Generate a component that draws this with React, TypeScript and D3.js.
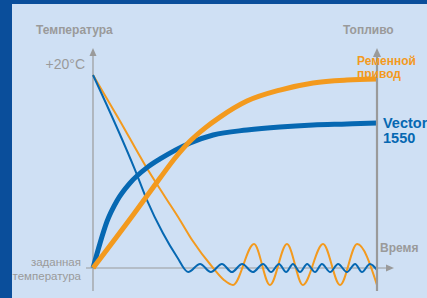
import React, { useEffect, useRef } from "react";
import { select, scaleLinear, line, curveMonotoneX } from "d3";

const W = 427;
const H = 298;

// fuel consumption (thick lines)
const vectorFuelT = [0, 2.5, 4.9, 8.5, 13, 19, 23.6, 34.2, 42.3, 54.2, 65.8, 77.5, 89.4, 100];
const vectorFuelV = [0, 13, 24, 35, 44, 52, 56.5, 64.8, 68.9, 71.5, 73.1, 74.1, 74.6, 75.1];
const beltFuelT = [0, 14.1, 23.6, 28.9, 34.2, 39.4, 44.7, 54.2, 65.8, 77.5, 89.4, 100];
const beltFuelV = [0, 27.5, 46.6, 57, 65.8, 72.5, 78.2, 86.5, 92.2, 95.9, 97.4, 97.9];

// temperature (thin lines)
const vectorTempT = [
  0, 14.8, 19, 24.6, 29.6, 33.5, 37.7, 41.5, 45.4, 48.9, 52.5, 56.3, 59.9, 62.7, 65.5, 68,
  70.4, 72.9, 75.4, 78.2, 80.6, 83.5, 86.3, 89.4, 92.3, 94.7, 97.5, 100,
];
const vectorTempV = [
  100, 50.8, 35.2, 18.1, 5.7, -2.1, 2.1, -2.1, 2.1, -2.1, 2.1, -2.1, 2.1, -2.1, 2.1, -2.1,
  2.1, -2.1, 2.1, -2.1, 2.1, -2.1, 2.1, -2.1, 2.1, -2.1, 2.1, -1,
];
const beltTempT = [0, 9.5, 18.3, 25.4, 30.6, 34.9, 42.3, 46.1, 49.3, 56.7, 62.3, 68.3, 73.9, 81, 87, 93, 100];
const beltTempV = [100, 76.2, 53.4, 36.8, 24.9, 14.5, 0, -6.2, -8.8, 12.4, -8.8, 12.4, -8.8, 12.4, -8.8, 12.4, -8.8];

const ORANGE = "#f39a1e";
const BLUE = "#0668b2";
const GREY = "#9a9a9a";
const FONT = "'Liberation Sans', Arial, sans-serif";

const Chart = () => {
  const svgRef = useRef(null);

  useEffect(() => {
    const svg = select(svgRef.current);
    svg.selectAll("*").remove();

    const x = scaleLinear().domain([0, 100]).range([93, 377]);
    const y = scaleLinear().domain([0, 100]).range([268, 75]);
    const [x0, x1] = x.range();
    const y0 = y(0);

    // background + frame
    svg.append("rect").attr("width", W).attr("height", H).attr("fill", "#cfe0f4");
    svg.append("rect").attr("width", 12).attr("height", H).attr("fill", "#0a4e9b");
    svg.append("rect").attr("width", W).attr("height", 4).attr("fill", "#0a4e9b");

    // left + bottom axes
    svg.append("line").attr("x1", x0).attr("x2", x0).attr("y1", 291).attr("y2", 54)
      .attr("stroke", GREY).attr("stroke-width", 1.2);
    svg.append("path").attr("d", `M${x0 - 3.5},56L${x0},48L${x0 + 3.5},56Z`).attr("fill", GREY);
    svg.append("line").attr("x1", 86).attr("x2", 388).attr("y1", y0).attr("y2", y0)
      .attr("stroke", GREY).attr("stroke-width", 1.2);
    svg.append("path").attr("d", `M386,${y0 - 3.5}L394,${y0}L386,${y0 + 3.5}Z`).attr("fill", GREY);

    const mk = (ts, vs) => line().curve(curveMonotoneX)(ts.map((t, i) => [x(t), y(vs[i])]));

    const series = [
      { t: beltTempT, v: beltTempV, c: ORANGE, w: 2 },
      { t: vectorTempT, v: vectorTempV, c: BLUE, w: 2 },
      { t: vectorFuelT, v: vectorFuelV, c: BLUE, w: 5 },
      { t: beltFuelT, v: beltFuelV, c: ORANGE, w: 5 },
    ];
    svg.selectAll(".curve").data(series).join("path")
      .attr("class", "curve")
      .attr("d", (s) => mk(s.t, s.v))
      .attr("fill", "none")
      .attr("stroke", (s) => s.c)
      .attr("stroke-width", (s) => s.w);

    // right (fuel) axis
    svg.append("line").attr("x1", x1).attr("x2", x1).attr("y1", 291).attr("y2", 55)
      .attr("stroke", GREY).attr("stroke-width", 2.2);
    svg.append("path").attr("d", `M${x1 - 4},57L${x1},48L${x1 + 4},57Z`).attr("fill", GREY);

    const txt = (s, px, py, o) => {
      const el = svg.append("text").attr("x", px).attr("y", py).text(s)
        .attr("font-family", FONT).attr("font-size", o.size || 12)
        .attr("font-weight", o.bold ? "bold" : "normal")
        .attr("fill", o.fill || GREY);
      if (o.anchor) el.attr("text-anchor", o.anchor);
    };
    txt("Температура", 36, 34, { bold: true });
    txt("Топливо", 343, 34, { bold: true });
    txt("+20°C", 85, 69, { size: 14, anchor: "end" });
    txt("заданная", 81, 266, { size: 11.5, anchor: "end" });
    txt("температура", 81, 280, { size: 11.5, anchor: "end" });
    txt("Время", 380, 252, { bold: true });
    txt("Ременной", 357, 65, { bold: true, fill: ORANGE });
    txt("привод", 357, 78, { bold: true, fill: ORANGE });
    txt("Vector", 383, 128, { bold: true, size: 14.5, fill: BLUE });
    txt("1550", 383, 143, { bold: true, size: 14.5, fill: BLUE });
  }, []);

  return (
    <svg
      ref={svgRef}
      width={W}
      height={H}
      style={{ position: "fixed", left: 0, top: 0, display: "block" }}
    />
  );
};

export default function App() {
  return <Chart />;
}
